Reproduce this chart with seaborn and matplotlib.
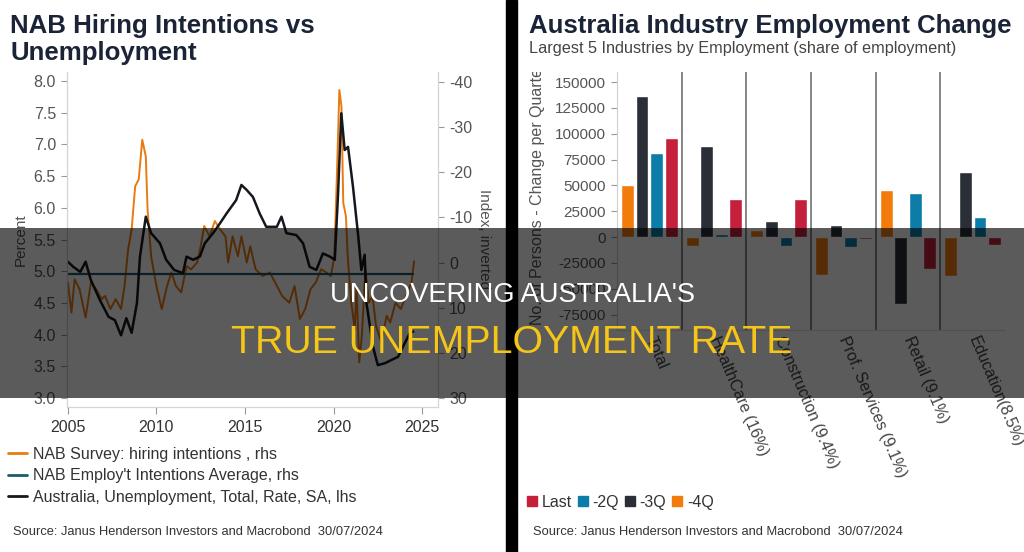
import pandas as pd
import matplotlib
matplotlib.use('Agg')
import matplotlib.pyplot as plt
import seaborn as sns
from matplotlib.lines import Line2D
from matplotlib.patches import Rectangle
from matplotlib.transforms import Bbox, TransformedBbox

# --- left chart: unemployment rate (lhs, %) ---
unemp_year = [2005.0, 2005.3, 2005.7, 2006.0, 2006.3, 2006.8, 2007.3, 2007.65, 2008.0, 2008.3,
              2008.6, 2008.9, 2009.07, 2009.4, 2009.7, 2010.2, 2010.55, 2011.0, 2011.5, 2011.7,
              2012.07, 2012.45, 2012.73, 2013.2, 2013.6, 2013.96, 2014.5, 2014.8, 2015.1, 2015.45,
              2015.83, 2016.2, 2016.8, 2017.06, 2017.34, 2017.9, 2018.28, 2018.65, 2019.03, 2019.4,
              2019.8, 2020.07, 2020.25, 2020.44, 2020.63, 2020.82, 2021.1, 2021.4, 2021.57, 2021.76,
              2021.86, 2022.23, 2022.5, 2022.9, 2023.26, 2023.64, 2023.92, 2024.3, 2024.5]
unemp_rate = [5.15, 5.07, 4.99, 5.15, 4.86, 4.55, 4.28, 4.23, 3.99, 4.26,
              4.03, 4.50, 5.23, 5.86, 5.60, 5.44, 5.18, 5.02, 4.97, 5.23,
              5.18, 5.23, 5.44, 5.60, 5.76, 5.91, 6.12, 6.36, 6.28, 6.17,
              5.91, 5.70, 5.70, 5.86, 5.60, 5.57, 5.44, 5.07, 5.02, 5.28,
              5.23, 5.18, 6.18, 7.49, 6.91, 6.96, 6.33, 5.54, 5.02, 5.26,
              4.50, 3.81, 3.52, 3.55, 3.60, 3.65, 3.81, 4.02, 4.05]

# NAB hiring intentions index (rhs, inverted)
nab_year = [2005.0, 2005.2, 2005.38, 2005.66, 2006.0, 2006.3, 2006.6, 2006.9, 2007.1, 2007.4,
            2007.7, 2008.0, 2008.2, 2008.4, 2008.6, 2008.8, 2009.0, 2009.2, 2009.4, 2009.5,
            2009.7, 2010.0, 2010.3, 2010.6, 2010.85, 2011.1, 2011.4, 2011.7, 2011.96, 2012.3,
            2012.5, 2012.7, 2013.0, 2013.3, 2013.6, 2013.9, 2014.05, 2014.3, 2014.6, 2014.8,
            2015.1, 2015.3, 2015.6, 2016.0, 2016.4, 2016.7, 2017.1, 2017.5, 2017.8, 2018.1,
            2018.4, 2018.7, 2019.0, 2019.3, 2019.6, 2019.85, 2020.05, 2020.2, 2020.33, 2020.45,
            2020.55, 2020.7, 2020.8, 2021.0, 2021.2, 2021.3, 2021.45, 2021.6, 2021.8, 2022.0,
            2022.2, 2022.4, 2022.7, 2023.0, 2023.2, 2023.5, 2023.8, 2024.1, 2024.4, 2024.55]
nab_index = [4.4, 11.1, 3.7, 5.9, 12.2, 4.4, 5.9, 8.1, 7.4, 10.3,
             8.1, 10.3, 5.2, -2.9, -7.3, -16.9, -18.4, -27.2, -23.5, -11.7,
             -1.4, 5.2, 10.3, 5.2, 2.2, 5.2, 6.6, 0.8, 1.5, 0.0,
             -3.6, -8.1, -5.8, -9.2, -7.3, -5.8, 0.0, -5.8, -1.4, -5.8,
             0.0, -3.6, 1.5, 3.0, 2.2, 4.4, 7.4, 8.9, 5.2, 12.5,
             10.3, 5.9, 4.4, 1.5, 2.2, 3.0, -1.4, -20.6, -38.2, -34.5,
             -13.2, -10.3, -1.4, 8.9, 14.7, 5.2, 22.1, 16.2, 1.5, 8.9,
             7.4, 14.0, 17.7, 11.8, 13.3, 8.9, 10.3, 7.4, 4.4, -0.3]

avg_year = [2005.0, 2024.5]
avg_index = [2.5, 2.5]

# --- right chart: industry employment change per quarter ---
industries = ['Total', 'HealthCare (16%)', 'Construction (9.4%)', 'Prof. Services (9.1%)',
              'Retail (9.1%)', 'Education(8.5%)']
periods = ['-4Q', '-3Q', '-2Q', 'Last']
chg_4q = [50000, -8700, 7100, -36500, 45200, -38100]
chg_3q = [136000, 88000, 15800, 11600, -65200, 62900]
chg_2q = [81600, 3200, -8400, -9700, 42900, 19000]
chg_last = [96100, 37100, 36500, -2300, -30700, -7400]

orange, charcoal, teal, red = '#f27b0c', '#2a2e37', '#0b7da8', '#c41f3b'

sns.set_style('white')
plt.rcParams['font.family'] = ['Liberation Sans', 'DejaVu Sans']
plt.rcParams['axes.unicode_minus'] = False

W, H = 1024, 552
fig = plt.figure(figsize=(W / 100, H / 100), dpi=100)


def fx(x):
    return x / W


def fy(y):
    return 1 - y / H


# ---------------- left panel ----------------
ax1 = fig.add_axes([fx(67), fy(407), 371 / W, 335 / H])
ax1r = ax1.twinx()

sns.lineplot(x=nab_year, y=nab_index, ax=ax1r, color='#e87b12', lw=1.4)
sns.lineplot(x=avg_year, y=avg_index, ax=ax1r, color='#1d5b6b', lw=1.6)
sns.lineplot(x=unemp_year, y=unemp_rate, ax=ax1, color='#15181e', lw=1.8)
ax1.set_zorder(ax1r.get_zorder() + 1)
ax1.patch.set_visible(False)

ax1.set_xlim(2004.95, 2025.9)
ax1.set_ylim(2.86, 8.14)
ax1r.set_ylim(32.0, -42.2)

ax1.set_xticks([2005, 2010, 2015, 2020, 2025])
ax1.set_yticks([3.0, 3.5, 4.0, 4.5, 5.0, 5.5, 6.0, 6.5, 7.0, 7.5, 8.0])
ax1.set_yticklabels([f'{v:.1f}' for v in ax1.get_yticks()])
ax1r.set_yticks(range(-40, 31, 10))

ax1.tick_params(axis='x', bottom=True, length=5, color='#999', labelsize=11.5,
                labelcolor='#333', pad=4)
ax1.tick_params(axis='y', left=True, length=4, color='#999', labelsize=11.5,
                labelcolor='#555', pad=4)
ax1r.tick_params(axis='y', right=True, length=4, color='#999', labelsize=11.5,
                 labelcolor='#555', pad=4)

for sp in ['top']:
    ax1.spines[sp].set_visible(False)
    ax1r.spines[sp].set_visible(False)
for sp in ['left', 'bottom', 'right']:
    ax1.spines[sp].set_color('#d4d4d4')
    ax1r.spines[sp].set_color('#d4d4d4')

ax1.set_ylabel('Percent', fontsize=11, color='#555')
ax1.yaxis.set_label_coords(-0.105, 0.5)
ax1r.set_ylabel('Index, inverted', fontsize=11, color='#555', rotation=270)
ax1r.yaxis.set_label_coords(1.125, 0.5)
ax1r.yaxis.label.set_va('center')

fig.text(fx(10), fy(33), 'NAB Hiring Intentions vs', fontsize=18.6, weight='bold',
         color='#1b2436', va='baseline')
fig.text(fx(10), fy(60), 'Unemployment', fontsize=18.6, weight='bold',
         color='#1b2436', va='baseline')

h1 = [Line2D([], [], color='#e87b12', lw=2),
      Line2D([], [], color='#1d5b6b', lw=2),
      Line2D([], [], color='#15181e', lw=2)]
l1 = ['NAB Survey: hiring intentions , rhs', "NAB Employ't Intentions Average, rhs",
      'Australia, Unemployment, Total, Rate, SA, lhs']
fig.legend(h1, l1, loc='upper left', bbox_to_anchor=(fx(8), fy(447)), frameon=False,
           fontsize=11.5, labelcolor='#333', handlelength=1.2, handletextpad=0.35,
           labelspacing=0.4, borderpad=0, borderaxespad=0)

fig.text(fx(13), fy(532), 'Source: Janus Henderson Investors and Macrobond  30/07/2024',
         fontsize=9.3, color='#333', va='center')

# ---------------- right panel ----------------
bars = pd.DataFrame({
    'industry': industries * 4,
    'period': [p for p in periods for _ in industries],
    'change': chg_4q + chg_3q + chg_2q + chg_last,
})

ax2 = fig.add_axes([fx(617), fy(330), 388 / W, 258 / H])
sns.barplot(data=bars, x='industry', y='change', hue='period', hue_order=periods,
            palette=[orange, charcoal, teal, red], saturation=1, width=0.9, gap=0.12,
            ax=ax2, legend=False)
for b in [0.5, 1.5, 2.5, 3.5, 4.5]:
    ax2.axvline(b, color='#666', lw=1.1)

ax2.set_xlim(-0.5, 5.5)
ax2.set_ylim(-90000, 159700)
yt = list(range(-75000, 150001, 25000))
ax2.set_yticks(yt)
ax2.set_yticklabels([str(v) for v in yt])
ax2.set_xlabel('')
ax2.set_xticks(range(len(industries)))
ax2.set_xticklabels(industries, rotation=-67, ha='left', va='center', rotation_mode='anchor')
ax2.tick_params(axis='x', length=0, pad=5, labelsize=11.5, labelcolor='#444')
ax2.tick_params(axis='y', left=True, length=4, color='#999', labelsize=11,
                labelcolor='#555', pad=4)
for sp in ['top', 'right']:
    ax2.spines[sp].set_visible(False)
ax2.spines['left'].set_color('#d0d0d0')
ax2.spines['bottom'].set_color('#e0e0e0')

ax2.set_ylabel('No. of Persons - Change per Quarter', fontsize=11.5, color='#555')
ax2.yaxis.label.set_ha('left')
ax2.yaxis.set_label_coords(-0.186, 0.02)
ax2.yaxis.label.set_clip_box(TransformedBbox(Bbox.from_extents(0, 0, 1, fy(72)), fig.transFigure))
ax2.yaxis.label.set_clip_on(True)

fig.text(fx(529), fy(33), 'Australia Industry Employment Change', fontsize=18.5, weight='bold',
         color='#1b2436', va='baseline')
fig.text(fx(529), fy(53), 'Largest 5 Industries by Employment (share of employment)',
         fontsize=11.7, color='#444', va='baseline')

h2 = [Line2D([], [], ls='none', marker='s', markersize=7, color=c)
      for c in [red, teal, charcoal, orange]]
fig.legend(h2, ['Last', '-2Q', '-3Q', '-4Q'], loc='upper left', ncol=4,
           bbox_to_anchor=(fx(527), fy(495)), frameon=False, fontsize=11.5, labelcolor='#333',
           handlelength=0.6, handletextpad=0.3, columnspacing=0.4, borderpad=0,
           borderaxespad=0)

fig.text(fx(533), fy(532), 'Source: Janus Henderson Investors and Macrobond  30/07/2024',
         fontsize=9.3, color='#333', va='center')

# divider and banner overlay
fig.add_artist(Rectangle((fx(506), 0), 11 / W, 1, transform=fig.transFigure,
                         color='black', zorder=5))
fig.add_artist(Rectangle((0, fy(398)), 1, 170 / H, transform=fig.transFigure,
                         color='black', alpha=0.645, lw=0, zorder=10))
banner_font = ['Liberation Sans', 'DejaVu Sans']
fig.text(0.5, fy(302), "UNCOVERING AUSTRALIA'S", ha='center', va='baseline', color='white',
         fontsize=19.6, family=banner_font, zorder=11)
fig.text(0.5, fy(353), 'TRUE UNEMPLOYMENT RATE', ha='center', va='baseline', color='#f5c518',
         fontsize=28.3, family=banner_font, zorder=11)

fig.savefig('out.png', dpi=100)
